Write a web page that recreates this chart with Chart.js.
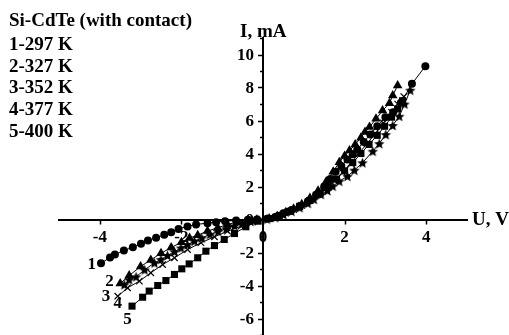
<!DOCTYPE html>
<html>
<head>
<meta charset="utf-8">
<script src="https://cdn.jsdelivr.net/npm/chart.js@4.4.1/dist/chart.umd.min.js"></script>
<style>
  html, body { margin: 0; padding: 0; background: #fff; }
  #wrap { width: 509px; height: 335px; position: relative; }
</style>
</head>
<body>
<div id="wrap"><canvas id="grafica"></canvas></div>
<script>
// Datos: U en V, I en mA
const u297 = [-3.97, -3.75, -3.63, -3.41, -3.19, -2.99, -2.82, -2.62, -2.42, -2.25, -2.07, -1.85, -1.64, -1.36, -1.15, -0.93, -0.66, -0.37, -0.15,
  0.1, 0.3, 0.5, 0.7, 0.9, 1.1, 1.3, 1.5, 1.65, 1.78, 1.92, 2.07, 2.2, 2.31, 2.47, 2.63, 2.8, 3.0, 3.19, 3.38, 3.65, 3.98];
const i297 = [-2.65, -2.3, -2.12, -1.88, -1.68, -1.47, -1.27, -1.11, -0.93, -0.77, -0.57, -0.42, -0.30, -0.22, -0.16, -0.10, -0.06, -0.02, 0,
  0.04, 0.15, 0.38, 0.58, 0.8, 1.1, 1.5, 2.0, 2.45, 2.9, 3.25, 3.64, 3.95, 4.24, 4.7, 5.15, 5.65, 6.2, 6.5, 7.07, 8.22, 9.29];

const u327 = [-3.5, -3.28, -3.0, -2.75, -2.5, -2.25, -2.0, -1.8, -1.6, -1.36, -1.11, -0.87, -0.62, -0.38, -0.15,
  0.15, 0.35, 0.55, 0.75, 0.95, 1.15, 1.35, 1.55, 1.72, 1.87, 2.0, 2.12, 2.26, 2.4, 2.5, 2.61, 2.77, 2.93, 3.10, 3.18, 3.30];
const i327 = [-3.88, -3.4, -2.85, -2.45, -2.05, -1.7, -1.38, -1.12, -0.95, -0.7, -0.5, -0.3, -0.15, -0.06, -0.01,
  0.06, 0.2, 0.42, 0.65, 0.92, 1.3, 1.75, 2.3, 2.9, 3.47, 3.85, 4.18, 4.55, 4.95, 5.3, 5.6, 6.1, 6.6, 7.05, 7.52, 8.12];

const u352 = [-3.56, -3.32, -3.03, -2.75, -2.46, -2.17, -1.85, -1.52, -1.19, -0.87, -0.54, -0.25,
  0.15, 0.35, 0.55, 0.75, 0.95, 1.15, 1.35, 1.55, 1.75, 1.95, 2.15, 2.35, 2.55, 2.75, 2.95, 3.15, 3.3, 3.45];
const i352 = [-4.65, -4.14, -3.74, -3.23, -2.73, -2.32, -1.82, -1.41, -1.05, -0.71, -0.41, -0.15,
  0.05, 0.18, 0.38, 0.6, 0.85, 1.15, 1.5, 1.9, 2.35, 2.85, 3.4, 4.0, 4.6, 5.2, 5.85, 6.5, 7.0, 7.45];

const u377 = [-3.4, -3.28, -3.11, -2.9, -2.66, -2.5, -2.34, -2.17, -2.01, -1.85, -1.68, -1.5, -1.3, -1.1, -0.9, -0.7, -0.5, -0.3, -0.1,
  0.1, 0.3, 0.5, 0.7, 0.9, 1.1, 1.25, 1.42, 1.58, 1.71, 1.87, 2.07, 2.24, 2.44, 2.69, 2.85, 3.01, 3.18, 3.34, 3.47, 3.61];
const i377 = [-3.95, -3.65, -3.47, -3.05, -2.63, -2.42, -2.18, -1.95, -1.72, -1.52, -1.31, -1.12, -0.9, -0.72, -0.55, -0.38, -0.24, -0.12, -0.03,
  0.03, 0.12, 0.3, 0.5, 0.72, 0.98, 1.22, 1.52, 1.75, 2.02, 2.32, 2.62, 2.99, 3.44, 4.14, 4.6, 5.15, 5.7, 6.26, 7.0, 7.84];

const u400 = [-3.21, -2.95, -2.79, -2.58, -2.38, -2.17, -1.99, -1.81, -1.6, -1.40, -1.19, -0.95, -0.70, -0.42, -0.13,
  0.15, 0.4, 0.65, 0.9, 1.15, 1.4, 1.6, 1.8, 2.0, 2.2, 2.4, 2.6, 2.8, 2.98, 3.15, 3.3, 3.42];
const i400 = [-5.25, -4.71, -4.34, -4.0, -3.7, -3.33, -2.99, -2.69, -2.32, -1.92, -1.58, -1.21, -0.85, -0.44, -0.1,
  0.06, 0.25, 0.5, 0.8, 1.15, 1.6, 2.0, 2.45, 2.95, 3.45, 4.0, 4.55, 5.1, 5.65, 6.2, 6.7, 7.2];

const leyenda = ['Si-CdTe (with contact)', '1-297 K', '2-327 K', '3-352 K', '4-377 K', '5-400 K'];
// número de curva y su posición (U, I) en la gráfica
const etiquetasCurva = ['1', '2', '3', '4', '5'];
const posEtiquetaU = [-4.2, -3.76, -3.85, -3.56, -3.32];
const posEtiquetaI = [-2.73, -3.76, -4.67, -5.09, -6.06];

const fuente = "'Liberation Serif', 'Times New Roman', serif";

function puntos(us, is) {
  return us.map((u, k) => ({ x: u, y: is[k] }));
}

// estrella rellena de cinco puntas para la serie 4
function crearEstrella(r) {
  const c = document.createElement('canvas');
  const s = Math.ceil(r * 2) + 2;
  c.width = s; c.height = s;
  const g = c.getContext('2d');
  g.fillStyle = '#000';
  g.beginPath();
  for (let k = 0; k < 10; k++) {
    const rr = k % 2 === 0 ? r : r * 0.45;
    const a = -Math.PI / 2 + k * Math.PI / 5;
    const px = s / 2 + rr * Math.cos(a);
    const py = s / 2 + rr * Math.sin(a) + 0.6;
    if (k === 0) g.moveTo(px, py); else g.lineTo(px, py);
  }
  g.closePath();
  g.fill();
  return c;
}

function serie(us, is, estilo, radio, extra) {
  return Object.assign({
    data: puntos(us, is),
    showLine: true,
    borderColor: '#000',
    borderWidth: 1,
    pointStyle: estilo,
    pointRadius: radio,
    pointBackgroundColor: '#000',
    pointBorderColor: '#000',
    pointBorderWidth: 0
  }, extra || {});
}

const esPar = v => Math.abs(v % 2) === 0;

// ticks menores y mayores, y etiquetas del eje I (a la izquierda del eje)
const ticksEjes = {
  id: 'ticksEjes',
  beforeDatasetsDraw(chart) {
    const { ctx, scales: { x, y } } = chart;
    const x0 = x.getPixelForValue(0);
    const y0 = y.getPixelForValue(0);
    ctx.save();
    ctx.strokeStyle = '#000';
    ctx.lineWidth = 1.5;
    ctx.beginPath();
    x.ticks.forEach(t => {
      const px = Math.round(x.getPixelForValue(t.value)) + 0.5;
      ctx.moveTo(px, y0);
      ctx.lineTo(px, y0 + (esPar(t.value) ? 5 : 3));
    });
    y.ticks.forEach(t => {
      const py = Math.round(y.getPixelForValue(t.value)) + 0.5;
      ctx.moveTo(x0, py);
      ctx.lineTo(x0 - (esPar(t.value) ? 5 : 3), py);
    });
    ctx.stroke();
    ctx.fillStyle = '#000';
    ctx.font = 'bold 17px ' + fuente;
    ctx.textAlign = 'right';
    ctx.textBaseline = 'middle';
    y.ticks.forEach(t => {
      if (esPar(t.value)) ctx.fillText(String(t.value), x0 - 9, y.getPixelForValue(t.value) + 1);
    });
    ctx.restore();
  }
};

// textos: leyenda, títulos de ejes y números de curva
const textos = {
  id: 'textos',
  afterDatasetsDraw(chart) {
    const { ctx, scales: { x, y } } = chart;
    ctx.save();
    ctx.fillStyle = '#000';
    ctx.textBaseline = 'alphabetic';
    ctx.textAlign = 'left';
    ctx.font = 'bold 19px ' + fuente;
    const bases = [26, 50, 72, 93, 115, 137];
    leyenda.forEach((t, k) => ctx.fillText(t, 9, bases[k]));
    ctx.fillText('I, mA', 240, 37);
    ctx.fillText('U, V', 472, 225);
    ctx.font = 'bold 17px ' + fuente;
    ctx.textAlign = 'center';
    ctx.textBaseline = 'middle';
    etiquetasCurva.forEach((t, k) => {
      ctx.fillText(t, x.getPixelForValue(posEtiquetaU[k]), y.getPixelForValue(posEtiquetaI[k]));
    });
    ctx.restore();
  }
};

new Chart(document.getElementById('grafica'), {
  type: 'scatter',
  data: {
    datasets: [
      serie(u297, i297, 'circle', 4),
      serie(u327, i327, 'triangle', 5.5),
      serie(u352, i352, 'crossRot', 4.5, { pointBorderWidth: 1.2 }),
      serie(u377, i377, crearEstrella(5.5), 5.5),
      serie(u400, i400, 'rect', 5)
    ]
  },
  options: {
    responsive: true,
    maintainAspectRatio: false,
    animation: false,
    layout: { autoPadding: false, padding: { left: 59, right: 42, top: 38, bottom: 0 } },
    plugins: { legend: { display: false }, tooltip: { enabled: false } },
    scales: {
      x: {
        type: 'linear',
        position: { y: 0 }, min: -5, max: 5,
        grid: { drawOnChartArea: false, drawTicks: false },
        border: { display: true, color: '#000', width: 2 },
        ticks: {
          stepSize: 1, autoSkip: false, maxRotation: 0, padding: 8, color: '#000',
          font: { family: fuente, size: 17, weight: 'bold' },
          callback: v => (esPar(v) ? String(v) : null)
        },
        afterFit: s => { s.height = 0; }
      },
      y: {
        type: 'linear',
        position: { x: 0 }, min: -7, max: 11,
        grid: { drawOnChartArea: false, drawTicks: false },
        border: { display: true, color: '#000', width: 2 },
        ticks: { stepSize: 1, autoSkip: false, display: false },
        afterFit: s => { s.width = 0; }
      }
    }
  },
  plugins: [ticksEjes, textos]
});
</script>
</body>
</html>
